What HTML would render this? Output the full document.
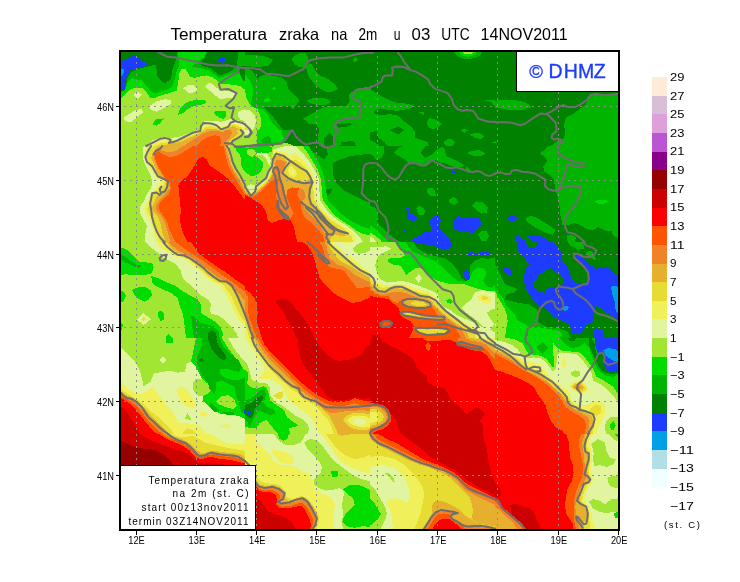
<!DOCTYPE html>
<html lang="hr"><head><meta charset="utf-8"><title>Temperatura zraka na 2m</title>
<style>html,body{margin:0;padding:0;background:#fff}body{width:740px;height:582px;overflow:hidden}svg{display:block}text{font-family:"Liberation Sans","DejaVu Sans",sans-serif;fill:#000}.ax{font-size:10px}.lg{font-size:11px}.ib{font-size:10px;text-anchor:end}.co{fill:none;stroke:#6e6e6e;stroke-width:2;stroke-linejoin:round;stroke-linecap:round}</style></head><body>
<svg width="740" height="582" viewBox="0 0 740 582">
<rect width="740" height="582" fill="#fff"/>
<defs><clipPath id="mapclip"><rect x="120" y="51" width="499" height="479"/></clipPath></defs>
<g clip-path="url(#mapclip)">
<svg x="120" y="50" width="125" height="96" viewBox="0 0 740 568" preserveAspectRatio="none" shape-rendering="crispEdges">
<rect width="740" height="568" fill="#a0e632"/>
<path fill="#00dc00" d="M0,295 20,275 50,240 85,225 130,225 155,245 175,280 200,285 240,270 290,255 335,240 345,195 350,140 362,115 385,110 400,130 415,160 445,165 480,155 515,150 545,160 575,180 600,200 665,205 715,215 740,235 740,0 0,0Z"/>
<path fill="#00b400" d="M0,250 30,238 45,190 70,165 100,175 130,180 160,215 185,250 215,255 260,240 300,225 320,190 335,130 350,90 345,40 345,0 0,0Z"/>
<path fill="#008200" d="M0,245 28,238 38,200 45,160 70,128 110,112 160,100 215,85 218,150 245,185 270,195 300,172 310,120 325,75 335,40 340,0 0,0Z"/>
<path fill="#1e3cff" d="M0,70 40,55 75,30 100,40 130,60 160,85 140,100 100,105 60,120 40,150 35,200 30,230 0,230Z"/>
<path fill="#00a0e6" d="M0,115 25,110 20,140 5,160 0,160Z"/>
<path fill="#00b400" d="M520,0 495,40 455,70 427,100 487,110 537,125 582,165 607,160 657,140 697,125 712,150 727,180 740,185 740,0Z"/>
<path fill="#008200" d="M525,0 500,45 470,75 490,95 540,110 585,150 610,145 655,125 690,100 700,30 700,0Z"/>
<path fill="#008200" d="M700,100 740,95 740,185 727,175 712,145Z"/>
<path fill="#1e3cff" d="M575,60 600,35 630,55 605,80Z"/>
<path fill="#e1f5a0" d="M80,265 105,245 130,265 105,290Z"/>
<path fill="#e1f5a0" d="M170,335 215,305 265,292 305,295 300,320 260,345 215,365 185,355Z"/>
<path fill="#e1f5a0" d="M20,400 50,380 95,355 130,350 135,370 100,400 60,430 30,420Z"/>
<path fill="#e1f5a0" d="M375,228 400,205 430,205 460,230 440,250 410,255Z"/>
<path fill="#e1f5a0" d="M505,215 525,192 545,200 570,225 600,235 650,245 690,260 680,285 640,285 590,290 560,265 530,240Z"/>
<path fill="#e1f5a0" d="M700,365 720,355 740,350 740,420 715,415 700,395Z"/>
<path fill="#00dc00" d="M340,385 355,350 380,320 420,300 470,295 510,300 505,320 470,325 430,335 400,350 370,375Z"/>
<path fill="#00dc00" d="M190,440 215,410 260,405 240,430 220,448Z"/>
<path fill="#00dc00" d="M555,365 590,360 625,362 630,385 615,410 590,400 565,385Z"/>
<path fill="#e1f5a0" d="M150,568 190,535 250,515 300,520 350,515 400,495 440,480 470,470 480,440 500,420 560,418 600,425 650,410 700,415 740,430 740,568Z"/>
<path fill="#f0f05a" d="M175,568 210,545 260,530 330,535 380,510 430,495 475,480 490,450 520,440 570,448 610,450 650,435 700,440 740,460 740,568Z"/>
<path fill="#e6dc32" d="M200,568 250,548 330,545 390,520 440,500 480,485 500,460 540,450 580,465 630,455 670,440 710,455 740,480 740,568Z"/>
<path fill="#e6af2d" d="M230,568 300,555 360,545 410,520 460,500 495,480 520,465 560,465 600,480 640,465 670,450 700,465 720,490 740,510 740,568Z"/>
<path fill="#f08228" d="M380,568 410,545 450,520 490,495 530,480 570,478 610,485 650,470 660,500 650,540 640,568Z"/>
<path fill="#ff5500" d="M450,568 480,540 520,515 560,505 590,510 600,540 590,568Z"/>
</svg>
<svg x="120" y="146" width="125" height="96" viewBox="0 0 740 568" preserveAspectRatio="none" shape-rendering="crispEdges">
<rect width="740" height="568" fill="#a0e632"/>
<path fill="#00dc00" d="M700,0 740,0 740,185 720,140 708,90 702,40Z"/>
<path fill="#e1f5a0" d="M140,0 135,40 140,90 160,130 180,170 190,210 185,250 160,280 140,330 115,360 120,400 140,440 160,470 150,520 150,568 740,568 740,200 725,170 700,125 680,90 670,50 655,10 650,0Z"/>
<path fill="#f0f05a" d="M155,0 148,40 150,80 170,120 195,160 215,190 240,205 225,240 200,265 180,290 160,340 145,370 150,400 170,430 190,470 200,520 210,568 740,568 740,225 715,176 690,136 670,96 660,56 645,16 640,0Z"/>
<path fill="#e6dc32" d="M200,0 175,30 160,60 165,85 185,115 205,150 225,185 265,205 255,240 215,270 190,295 180,340 160,370 170,400 190,430 205,470 220,520 235,568 740,568 740,240 708,180 683,140 664,100 654,60 640,18 635,0Z"/>
<path fill="#e6af2d" d="M230,0 210,20 190,45 185,75 200,105 215,145 235,180 275,205 275,245 240,275 215,300 200,340 185,365 200,395 225,420 240,460 250,510 270,568 740,568 740,255 704,185 678,143 659,103 648,62 634,18 628,0Z"/>
<path fill="#f08228" d="M370,0 340,25 300,38 260,32 230,22 210,35 200,60 205,90 220,120 240,155 260,185 290,205 295,250 265,290 235,320 215,350 215,380 240,410 265,450 280,500 290,540 300,568 740,568 740,270 698,190 672,148 652,108 640,64 626,18 620,0Z"/>
<path fill="#ff5500" d="M225,30 255,50 290,65 330,60 370,40 410,15 430,0 612,0 617,16 627,66 642,116 667,166 697,216 722,256 740,290 740,568 330,568 310,530 290,490 280,450 255,410 230,375 230,345 260,310 290,285 300,250 295,215 270,195 250,160 225,120 210,80 210,50Z"/>
<path fill="#fa0000" d="M490,65 515,80 530,115 570,140 610,170 640,195 680,240 710,280 740,320 740,568 400,568 380,530 365,490 355,440 360,380 355,330 350,280 345,230 370,200 400,180 420,150 440,120 455,90 470,70Z"/>
</svg>
<svg x="120" y="242" width="125" height="96" viewBox="0 0 740 568" preserveAspectRatio="none" shape-rendering="crispEdges">
<rect width="740" height="568" fill="#a0e632"/>
<path fill="#00dc00" d="M0,30 30,40 60,60 90,90 110,115 150,120 190,125 200,150 185,190 130,195 70,195 30,190 0,200Z"/>
<path fill="#00b400" d="M0,70 30,85 60,110 100,135 130,140 110,155 70,140 40,125 0,105Z"/>
<path fill="#00dc00" d="M185,200 230,215 280,240 330,260 370,290 420,320 460,340 480,370 480,420 520,445 560,470 590,500 610,540 605,568 390,568 385,520 380,470 370,420 355,380 340,330 300,300 250,280 210,260 190,240Z"/>
<path fill="#00b400" d="M420,430 450,450 480,480 520,490 560,500 585,530 590,568 440,568 430,520 425,470Z"/>
<path fill="#008200" d="M520,540 540,520 565,535 575,568 520,568Z"/>
<path fill="#00dc00" d="M70,285 100,270 150,265 180,285 190,315 170,340 145,355 110,335 85,310Z"/>
<path fill="#00dc00" d="M225,415 245,405 262,425 258,460 240,470 228,445Z"/>
<path fill="#00dc00" d="M0,290 25,295 35,320 20,350 0,360Z"/>
<path fill="#00dc00" d="M0,470 20,490 10,520 0,530Z"/>
<path fill="#00dc00" d="M270,560 290,545 310,568 270,568Z"/>
<path fill="#e1f5a0" d="M100,458 140,420 182,458 140,492Z"/>
<path fill="#f0f05a" d="M118,458 140,435 162,458 140,478Z"/>
<path fill="#e6dc32" d="M130,458 140,445 150,458 140,470Z"/>
<path fill="#e1f5a0" d="M150,0 180,30 220,60 260,95 290,110 330,130 360,170 370,210 400,240 430,270 470,310 520,340 540,370 530,400 540,425 580,435 620,460 660,500 690,540 700,568 740,568 740,0Z"/>
<path fill="#f0f05a" d="M215,0 240,30 280,60 330,85 380,100 420,130 460,160 500,200 540,235 590,255 615,290 640,330 665,380 690,430 710,470 740,500 740,0Z"/>
<path fill="#e6dc32" d="M250,0 280,30 320,60 365,85 410,105 450,140 490,175 530,210 570,235 610,250 630,280 660,320 680,370 700,410 720,450 740,470 740,0Z"/>
<path fill="#e6af2d" d="M275,0 300,30 335,60 380,80 420,100 460,135 500,165 540,195 580,225 625,240 655,265 685,310 710,360 730,400 740,420 740,0Z"/>
<path fill="#f08228" d="M290,0 320,30 350,55 390,75 430,95 470,125 510,155 550,185 590,215 630,235 665,260 700,300 725,330 740,350 740,0Z"/>
<path fill="#ff5500" d="M330,0 370,30 410,60 450,85 490,110 530,140 570,170 610,200 650,225 690,255 720,280 740,295 740,0Z"/>
<path fill="#fa0000" d="M420,0 740,0 740,260 700,235 660,205 620,175 580,150 540,120 500,95 460,60 440,30Z"/>
</svg>
<svg x="120" y="338" width="125" height="96" viewBox="0 0 740 568" preserveAspectRatio="none" shape-rendering="crispEdges">
<rect width="740" height="568" fill="#e1f5a0"/>
<path fill="#a0e632" d="M0,0 450,0 440,50 430,100 420,140 395,150 385,200 340,205 300,195 250,200 200,210 180,260 140,285 130,240 120,200 100,160 80,130 50,100 20,70 0,50Z"/>
<path fill="#e1f5a0" d="M235,130 255,112 275,130 255,150Z"/>
<path fill="#00dc00" d="M275,0 315,0 315,30 275,30Z"/>
<path fill="#a0e632" d="M430,270 450,240 490,245 520,270 545,300 520,330 490,345 460,340 435,310Z"/>
<path fill="#a0e632" d="M600,0 640,0 670,55 700,95 740,140 740,200 707,146 667,96 637,56 607,6Z"/>
<path fill="#00dc00" d="M450,0 600,0 607,6 637,56 667,96 707,146 740,196 740,480 700,460 650,455 600,450 560,430 520,400 490,370 490,345 520,330 545,300 520,270 490,245 470,215 450,170 420,140 430,100 440,50Z"/>
<path fill="#00b400" d="M490,0 590,0 610,50 650,90 700,130 720,170 700,210 720,240 740,235 740,380 700,375 680,320 680,290 640,270 600,250 570,260 570,300 560,330 530,300 520,260 490,230 470,190 455,140 460,100 480,60Z"/>
<path fill="#00dc00" d="M590,180 640,185 700,200 730,240 700,250 650,245 610,230 590,210Z"/>
<path fill="#008200" d="M520,0 570,0 580,40 610,80 630,120 610,135 570,100 540,60 530,30Z"/>
<path fill="#008200" d="M465,130 482,118 498,130 482,145Z"/>
<path fill="#a0e632" d="M570,375 600,345 640,338 675,360 690,400 670,420 630,410 590,395Z"/>
<path fill="#00b400" d="M530,380 560,400 590,430 560,440 535,410Z"/>
<path fill="#00b400" d="M610,440 660,435 680,450 640,458Z"/>
<path fill="#00b400" d="M700,370 740,360 740,450 720,440Z"/>
<path fill="#1e3cff" d="M732,420 740,420 740,450 732,450Z"/>
<path fill="#f0f05a" d="M335,300 365,285 395,300 420,340 450,390 440,415 400,410 370,385 350,350Z"/>
<path fill="#f0f05a" d="M0,235 20,275 50,300 100,335 140,325 175,300 195,290 215,320 240,350 270,390 310,430 330,470 350,500 400,505 440,510 480,525 500,550 510,568 0,568Z"/>
<path fill="#f0f05a" d="M470,440 500,432 520,450 505,468 480,462Z"/>
<path fill="#f0f05a" d="M590,518 630,510 660,520 640,532 605,530Z"/>
<path fill="#a0e632" d="M380,480 400,445 425,485Z"/>
<path fill="#e6dc32" d="M0,290 30,320 70,345 110,370 150,400 190,440 230,470 270,510 300,540 320,568 0,568Z"/>
<path fill="#e6dc32" d="M370,560 400,535 430,545 450,568 370,568Z"/>
<path fill="#e6af2d" d="M0,310 30,335 70,355 110,385 150,420 185,460 220,495 260,535 290,568 0,568Z"/>
<path fill="#f08228" d="M0,325 30,345 70,365 105,395 140,430 175,470 205,505 245,545 270,568 0,568Z"/>
<path fill="#ff5500" d="M0,335 30,355 65,375 100,405 130,440 160,480 195,515 230,550 250,568 0,568Z"/>
<path fill="#fa0000" d="M0,350 30,370 60,390 90,420 120,455 150,495 180,530 210,560 220,568 0,568Z"/>
<path fill="#cd0000" d="M0,400 25,420 50,450 75,490 100,530 120,568 0,568Z"/>
</svg>
<svg x="120" y="434" width="125" height="96" viewBox="0 0 740 568" preserveAspectRatio="none" shape-rendering="crispEdges">
<rect width="740" height="568" fill="#cd0000"/>
<path fill="#960000" d="M0,40 40,55 80,75 130,85 180,90 220,100 260,120 290,150 320,190 330,568 0,568Z"/>
<path fill="#fa0000" d="M120,0 160,25 200,45 240,60 280,75 320,90 360,100 400,115 430,145 460,170 500,175 540,170 600,178 650,185 740,190 740,0Z"/>
<path fill="#ff5500" d="M230,0 260,20 300,40 340,55 380,75 410,95 430,120 450,140 480,150 510,140 540,135 580,145 620,150 660,155 700,165 740,175 740,0Z"/>
<path fill="#f08228" d="M250,0 280,20 320,35 360,50 395,70 420,90 440,115 460,132 490,135 520,125 550,120 590,130 640,135 680,140 720,155 740,165 740,0Z"/>
<path fill="#e6af2d" d="M265,0 295,15 335,30 375,45 405,65 430,85 450,108 470,125 500,122 530,112 560,110 600,118 650,122 700,128 740,150 740,0Z"/>
<path fill="#e6dc32" d="M280,0 310,12 350,25 390,40 420,60 440,80 460,100 480,115 510,110 540,100 570,100 610,108 660,112 710,118 740,135 740,0Z"/>
<path fill="#f0f05a" d="M300,0 330,10 370,20 400,15 430,10 470,30 500,50 540,60 580,70 630,80 680,90 740,100 740,0Z"/>
<path fill="#e1f5a0" d="M540,0 570,20 600,40 640,55 690,60 740,55 740,0Z"/>
</svg>
<svg x="245" y="50" width="125" height="96" viewBox="0 0 740 568" preserveAspectRatio="none" shape-rendering="crispEdges">
<rect width="740" height="568" fill="#008200"/>
<path fill="#00b400" d="M0,30 60,30 130,40 165,60 130,95 70,100 0,95Z"/>
<path fill="#00b400" d="M275,55 300,30 330,15 360,20 375,45 370,80 350,105 320,100 295,85Z"/>
<path fill="#00b400" d="M360,100 380,75 400,90 420,130 450,155 490,170 530,200 550,230 520,245 480,250 440,225 410,200 385,170 370,135Z"/>
<path fill="#00b400" d="M75,170 100,150 150,150 210,160 245,185 255,230 290,265 325,295 300,330 285,350 260,330 220,335 160,335 110,335 70,330 40,310 30,280 70,250 75,210Z"/>
<path fill="#00dc00" d="M110,295 130,283 155,293 140,310 115,308Z"/>
<path fill="#00dc00" d="M160,228 172,218 184,228 172,238Z"/>
<path fill="#00b400" d="M365,300 400,285 450,283 490,290 510,310 480,325 430,325 390,318Z"/>
<path fill="#00b400" d="M345,405 400,375 450,345 480,335 540,330 600,330 620,300 615,260 640,245 660,230 740,215 740,568 660,568 640,540 590,545 560,568 520,568 525,520 500,490 470,520 470,560 440,568 430,520 440,470 420,440 380,435Z"/>
<path fill="#008200" d="M540,440 600,430 640,438 600,455 550,460Z"/>
<path fill="#008200" d="M565,548 620,540 655,548 640,560 580,562Z"/>
<path fill="#00b400" d="M635,58 652,42 668,58 652,75Z"/>
<path fill="#00b400" d="M0,105 40,120 75,170 75,210 70,250 30,280 40,310 70,330 110,335 145,370 170,400 200,440 230,480 260,495 250,530 215,555 150,568 0,568Z"/>
<path fill="#00dc00" d="M0,145 34,190 49,230 44,280 34,320 54,340 104,350 134,380 155,420 190,460 215,495 235,520 215,550 150,560 75,568 0,568Z"/>
<path fill="#a0e632" d="M0,240 10,290 34,330 74,350 94,400 95,450 75,490 70,530 80,568 0,568Z"/>
<path fill="#a0e632" d="M160,568 200,555 250,550 290,568Z"/>
<path fill="#e1f5a0" d="M0,355 30,358 55,380 65,420 55,460 35,490 20,510 0,510Z"/>
<path fill="#e6dc32" d="M0,445 25,470 30,490 15,505 0,510Z"/>
</svg>
<svg x="245" y="146" width="125" height="96" viewBox="0 0 740 568" preserveAspectRatio="none" shape-rendering="crispEdges">
<rect width="740" height="568" fill="#00b400"/>
<path fill="#008200" d="M340,0 480,0 490,50 470,80 440,60 400,30Z"/>
<path fill="#008200" d="M520,100 560,80 620,60 700,50 740,45 740,335 700,320 640,290 580,260 540,220 520,170Z"/>
<path fill="#008200" d="M465,280 490,255 515,250 510,275 490,295 470,295Z"/>
<path fill="#00dc00" d="M380,0 400,40 430,90 460,150 470,200 480,260 490,320 530,360 570,400 620,440 680,470 740,490 740,568 0,568 0,0Z"/>
<path fill="#a0e632" d="M340,0 370,40 400,90 430,140 450,200 455,260 460,320 490,360 520,400 570,440 620,470 660,500 700,520 740,530 740,568 0,568 0,210 30,215 70,195 100,160 115,120 110,80 80,50 40,35 0,30 0,0 80,0 100,15 150,15 170,0Z"/>
<path fill="#e1f5a0" d="M60,50 110,38 160,25 200,10 240,0 300,0 340,40 380,90 410,140 440,200 440,260 445,320 470,360 500,400 550,440 600,470 640,500 680,540 700,568 0,568 0,235 35,250 60,230 95,205 125,180 140,140 145,100 130,70 100,60 70,62Z"/>
<path fill="#f0f05a" d="M150,40 190,25 230,35 270,60 300,40 350,90 390,140 420,200 420,260 425,320 450,360 480,400 530,440 580,470 620,500 650,530 660,568 0,568 0,245 35,270 65,250 100,220 130,195 150,150 160,100 150,60Z"/>
<path fill="#e6dc32" d="M165,50 195,40 230,50 265,80 300,80 340,110 375,150 400,200 405,260 410,320 435,360 465,400 510,440 560,470 600,500 630,530 640,568 0,568 0,255 35,285 70,260 105,230 135,200 155,160 165,110 160,70Z"/>
<path fill="#e6af2d" d="M180,60 210,60 250,90 230,130 215,160 250,185 300,205 350,212 385,195 395,250 385,300 395,340 420,370 450,410 490,445 540,480 580,505 600,530 560,530 520,520 500,568 0,568 0,265 35,290 75,265 110,235 140,205 160,165 170,120 170,80Z"/>
<path fill="#e6dc32" d="M265,100 300,125 330,145 345,185 310,200 270,190 235,165 245,130Z"/>
<path fill="#f0f05a" d="M270,115 295,135 310,170 290,185 260,170 255,140Z"/>
<path fill="#e1f5a0" d="M280,135 292,150 290,170 278,160Z"/>
<path fill="#f08228" d="M190,80 220,85 245,100 225,135 205,165 215,200 230,240 240,290 270,250 320,245 350,260 360,300 340,330 350,370 380,400 420,440 450,480 470,520 480,568 0,568 0,275 35,300 80,270 115,240 145,210 165,170 175,130 180,95Z"/>
<path fill="#ff5500" d="M180,190 200,200 190,240 185,290 190,340 200,380 230,410 265,430 290,400 270,360 250,310 250,260 280,245 320,250 310,290 330,330 335,380 350,420 390,450 430,490 460,530 470,568 0,568 0,285 40,305 80,280 120,245 150,215Z"/>
<path fill="#fa0000" d="M0,290 40,310 70,330 100,350 125,390 135,440 160,455 200,440 240,430 270,440 290,480 300,530 310,568 0,568Z"/>
</svg>
<svg x="245" y="242" width="125" height="96" viewBox="0 0 740 568" preserveAspectRatio="none" shape-rendering="crispEdges">
<rect width="740" height="568" fill="#fa0000"/>
<path fill="#cd0000" d="M180,350 205,338 250,340 280,365 300,395 330,430 360,470 385,510 400,540 410,568 300,568 290,530 270,490 245,455 235,420 210,390Z"/>
<path fill="#ff5500" d="M340,0 370,20 395,60 410,100 425,150 440,210 470,250 510,290 550,320 600,345 630,360 680,355 710,340 740,330 740,0Z"/>
<path fill="#f08228" d="M440,0 460,30 470,70 480,110 490,140 520,155 560,160 590,175 610,205 640,240 660,270 700,270 740,265 740,0Z"/>
<path fill="#e6af2d" d="M470,0 485,30 490,60 500,95 525,115 550,135 585,145 615,165 650,195 690,215 720,230 740,235 740,0Z"/>
<path fill="#e6dc32" d="M485,0 500,30 520,60 540,85 560,110 590,125 620,140 660,165 700,190 740,210 740,0Z"/>
<path fill="#f0f05a" d="M500,0 520,30 545,55 570,80 600,105 640,130 680,160 720,185 740,195 740,0Z"/>
<path fill="#e1f5a0" d="M520,0 550,30 590,60 630,90 660,115 700,150 740,175 740,0Z"/>
<path fill="#f0f05a" d="M580,0 610,10 640,0Z"/>
<path fill="#a0e632" d="M640,40 660,15 690,0 740,0 740,50 710,65 670,70 650,60Z"/>
<path fill="#ff5500" d="M0,280 30,300 55,330 70,370 75,420 70,470 85,520 100,568 0,568Z"/>
<path fill="#f08228" d="M0,300 15,320 20,360 15,400 25,450 45,500 60,540 70,568 0,568Z"/>
<path fill="#e6af2d" d="M0,420 10,450 30,500 45,540 55,568 0,568Z"/>
<path fill="#e6dc32" d="M0,440 20,500 40,568 0,568Z"/>
<path fill="#f0f05a" d="M0,480 15,530 25,568 0,568Z"/>
</svg>
<svg x="245" y="338" width="125" height="96" viewBox="0 0 740 568" preserveAspectRatio="none" shape-rendering="crispEdges">
<rect width="740" height="568" fill="#a0e632"/>
<path fill="#00dc00" d="M0,185 15,200 20,240 10,270 30,290 70,300 110,285 130,295 140,330 150,370 190,400 230,425 250,470 317,519 260,534 267,568 197,568 167,534 127,484 87,504 67,534 27,534 0,524Z"/>
<path fill="#00b400" d="M0,370 30,360 60,340 90,310 115,300 125,340 110,380 130,410 170,425 180,445 150,455 110,440 80,430 60,460 40,500 25,530 15,500 0,480Z"/>
<path fill="#008200" d="M0,395 25,390 50,375 70,355 95,335 110,350 95,380 75,400 55,420 50,450 40,475 20,470 0,450Z"/>
<path fill="#1e3cff" d="M15,445 25,425 38,445 25,462Z"/>
<path fill="#e1f5a0" d="M0,135 15,160 28,200 38,240 50,252 90,265 130,270 150,300 150,340 180,380 220,400 260,430 300,460 340,480 370,510 380,540 370,568 740,568 740,0 0,0Z"/>
<path fill="#f0f05a" d="M0,0 20,30 50,70 70,110 100,150 120,180 100,220 70,235 100,245 140,240 180,260 220,290 240,330 260,370 300,400 340,430 380,460 410,500 430,540 440,568 740,568 740,0Z"/>
<path fill="#e6dc32" d="M165,340 200,320 225,315 225,350 200,365Z"/>
<path fill="#e6dc32" d="M30,0 50,40 75,85 110,130 140,170 160,200 190,230 230,265 270,300 310,325 330,350 370,375 410,395 435,420 460,450 490,480 510,520 525,568 740,568 740,0Z"/>
<path fill="#e6af2d" d="M50,0 70,40 95,85 130,130 160,170 200,210 240,250 280,285 310,310 335,335 375,360 415,380 440,405 470,430 500,460 520,500 540,540 550,568 740,568 740,0Z"/>
<path fill="#e6dc32" d="M580,490 600,460 640,445 690,445 740,450 740,540 700,545 650,540 610,520Z"/>
<path fill="#f0f05a" d="M605,490 630,465 670,458 720,465 740,475 740,525 700,530 650,520 620,505Z"/>
<path fill="#e1f5a0" d="M645,490 670,475 700,478 720,495 700,515 670,518 650,505Z"/>
<path fill="#f08228" d="M65,0 85,40 110,80 145,125 185,165 225,205 265,245 300,280 330,310 370,340 410,365 445,400 470,425 510,445 560,440 600,432 650,430 700,425 740,435 740,0Z"/>
<path fill="#ff5500" d="M80,0 100,40 125,75 160,115 200,155 240,195 280,240 320,275 350,305 390,335 430,360 470,385 520,400 570,405 620,395 650,385 680,395 740,400 740,0Z"/>
<path fill="#fa0000" d="M100,0 115,40 140,70 175,105 215,145 255,185 295,225 335,265 370,295 410,325 450,350 490,370 530,380 580,378 620,370 650,355 680,365 720,375 740,370 740,0Z"/>
<path fill="#cd0000" d="M310,0 410,0 430,30 460,70 490,100 520,125 560,135 610,130 660,115 700,90 710,60 740,40 740,355 700,360 660,350 620,360 580,370 530,368 490,350 460,310 430,270 400,230 370,190 340,150 325,100 315,50Z"/>
</svg>
<svg x="245" y="434" width="125" height="96" viewBox="0 0 740 568" preserveAspectRatio="none" shape-rendering="crispEdges">
<rect width="740" height="568" fill="#f0f05a"/>
<path fill="#e1f5a0" d="M100,0 460,0 490,50 520,100 550,145 590,180 640,205 700,225 740,235 740,568 530,568 520,520 525,470 535,420 520,385 490,365 450,350 420,330 400,300 400,270 380,240 340,220 300,195 260,185 210,185 170,160 150,120 115,95 85,60 60,30 70,5Z"/>
<path fill="#f0f05a" d="M160,90 200,100 250,110 290,140 290,175 250,180 210,170 180,140 160,110Z"/>
<path fill="#a0e632" d="M170,0 200,40 240,65 290,65 330,50 350,20 355,0Z"/>
<path fill="#a0e632" d="M350,50 380,30 420,35 450,60 480,100 510,140 540,170 580,200 620,230 660,255 700,270 740,280 740,568 580,568 575,520 580,470 575,420 580,380 590,340 560,320 520,330 480,335 440,320 410,300 410,270 430,250 450,230 455,190 430,150 400,120 370,90Z"/>
<path fill="#00dc00" d="M195,0 260,0 250,25 230,40 205,30Z"/>
<path fill="#00dc00" d="M510,222 550,218 548,250 515,258Z"/>
<path fill="#00dc00" d="M580,330 610,305 660,300 700,310 740,330 740,550 700,545 650,555 600,545 575,520 590,480 620,450 650,420 640,380 610,360Z"/>
<path fill="#f0f05a" d="M450,0 480,40 510,85 540,125 580,160 630,190 690,210 740,220 740,0Z"/>
<path fill="#e6dc32" d="M480,0 500,30 530,70 560,100 600,130 650,150 700,140 740,120 740,0Z"/>
<path fill="#e6af2d" d="M540,0 570,10 610,5 620,0Z"/>
<path fill="#e6dc32" d="M65,250 100,285 150,295 200,300 240,335 250,375 280,385 330,365 360,375 395,410 420,450 440,490 435,530 420,568 65,568Z"/>
<path fill="#e6af2d" d="M65,275 90,300 130,308 170,302 210,318 240,348 235,380 260,395 300,382 340,372 370,388 400,425 420,460 432,495 425,535 410,568 65,568Z"/>
<path fill="#f08228" d="M65,290 85,315 120,325 160,318 200,332 228,355 220,388 205,402 230,415 270,410 310,398 340,388 365,405 390,440 405,470 418,500 410,540 400,568 65,568Z"/>
<path fill="#ff5500" d="M65,300 85,325 120,335 160,330 190,345 210,370 200,395 190,410 220,430 270,425 310,412 340,405 360,425 380,455 395,485 405,510 400,540 390,568 65,568Z"/>
<path fill="#fa0000" d="M65,310 85,335 120,345 150,345 180,360 190,390 185,420 210,440 260,440 310,428 335,425 355,450 370,480 385,510 390,540 385,568 65,568Z"/>
<path fill="#cd0000" d="M65,380 90,395 110,420 130,450 160,470 200,480 240,495 270,515 290,540 300,568 65,568Z"/>
</svg>
<svg x="370" y="50" width="125" height="96" viewBox="0 0 740 568" preserveAspectRatio="none" shape-rendering="crispEdges">
<rect width="740" height="568" fill="#008200"/>
<path fill="#00b400" d="M485,0 520,40 560,55 610,50 650,35 670,0Z"/>
<path fill="#00dc00" d="M510,0 540,30 580,40 620,30 640,0Z"/>
<path fill="#a0e632" d="M535,0 560,25 600,25 620,0Z"/>
<path fill="#00b400" d="M0,230 30,250 60,270 110,295 150,310 200,315 250,325 265,335 220,350 160,360 110,355 60,345 30,355 20,375 60,385 120,380 170,390 200,420 240,450 265,480 265,520 300,530 340,545 350,568 0,568Z"/>
<path fill="#008200" d="M115,475 170,450 200,475 170,500Z"/>
<path fill="#008200" d="M0,485 40,480 50,520 90,550 100,568 60,568 0,530Z"/>
<path fill="#00b400" d="M335,430 350,403 380,410 410,425 425,440 400,460 370,468 345,455Z"/>
<path fill="#00b400" d="M285,368 320,368 318,383Z"/>
<path fill="#00b400" d="M435,545 460,528 490,530 503,548 490,568 450,568Z"/>
<path fill="#00b400" d="M535,475 555,465 580,475 560,490Z"/>
<path fill="#00b400" d="M590,500 620,490 655,495 675,510 660,528 620,520Z"/>
<path fill="#00b400" d="M670,295 740,295 740,335 720,310Z"/>
<path fill="#00b400" d="M720,545 740,545 740,552 720,552Z"/>
</svg>
<svg x="370" y="146" width="125" height="96" viewBox="0 0 740 568" preserveAspectRatio="none" shape-rendering="crispEdges">
<rect width="740" height="568" fill="#008200"/>
<path fill="#00b400" d="M0,0 80,0 85,40 70,70 40,85 20,60 0,45Z"/>
<path fill="#00b400" d="M140,40 170,10 200,0 330,0 300,40 330,70 370,50 400,20 430,5 445,25 450,60 500,80 540,100 560,120 520,125 480,120 450,105 420,100 390,85 360,80 340,110 300,115 260,105 230,105 210,80 180,65Z"/>
<path fill="#00b400" d="M575,42 600,28 650,25 685,42 660,60 620,62Z"/>
<path fill="#00b400" d="M565,120 585,130 600,150 580,160 570,145Z"/>
<path fill="#00b400" d="M335,255 360,245 385,260 390,295 360,295 340,280Z"/>
<path fill="#00b400" d="M465,320 490,300 515,315 520,335 495,350 475,338Z"/>
<path fill="#00b400" d="M605,350 630,328 670,335 698,360 690,395 660,400 630,380Z"/>
<path fill="#00b400" d="M275,370 285,352 310,360 328,385 315,410 285,405Z"/>
<path fill="#00b400" d="M640,525 660,505 690,505 705,530 690,560 660,560Z"/>
<path fill="#00b400" d="M0,355 30,365 50,400 40,440 60,470 90,500 110,520 150,550 180,568 0,568Z"/>
<path fill="#00dc00" d="M0,470 30,490 60,520 90,545 110,568 0,568Z"/>
<path fill="#a0e632" d="M0,510 30,530 60,555 70,568 0,568Z"/>
<path fill="#e1f5a0" d="M0,535 20,545 35,568 0,568Z"/>
<path fill="#1e3cff" d="M470,150 490,143 512,148 505,160 485,163Z"/>
<path fill="#1e3cff" d="M215,365 228,358 232,390 255,405 278,430 265,450 240,440 220,425Z"/>
<path fill="#1e3cff" d="M200,498 208,498 208,508 200,508Z"/>
<path fill="#1e3cff" d="M245,568 260,545 300,530 320,505 360,500 370,480 350,460 360,430 385,410 410,415 420,435 410,460 415,490 430,510 460,540 480,568Z"/>
<path fill="#1e3cff" d="M500,430 520,415 560,425 640,425 662,460 640,490 610,515 580,510 540,505 500,495Z"/>
</svg>
<svg x="370" y="242" width="125" height="96" viewBox="0 0 740 568" preserveAspectRatio="none" shape-rendering="crispEdges">
<rect width="740" height="568" fill="#a0e632"/>
<path fill="#00dc00" d="M150,0 740,0 740,290 700,290 650,280 600,265 560,250 500,250 460,245 420,235 390,225 360,205 330,175 300,155 270,155 240,175 215,195 200,170 180,140 140,135 110,120 105,100 140,95 180,95 205,80 190,50 165,25Z"/>
<path fill="#00b400" d="M210,0 740,0 740,250 720,270 690,260 670,230 690,190 680,160 640,150 610,170 590,210 560,235 520,230 480,200 450,170 420,140 380,110 340,95 300,80 260,60 230,30Z"/>
<path fill="#008200" d="M260,0 740,0 740,90 700,100 660,95 620,110 590,140 590,190 570,235 540,210 520,170 490,130 450,100 400,85 350,75 300,50 270,25Z"/>
<path fill="#1e3cff" d="M255,0 485,0 485,30 460,45 420,45 380,25 330,15 290,10Z"/>
<path fill="#1e3cff" d="M560,70 590,60 640,65 680,50 700,55 710,75 660,82 600,85 570,80Z"/>
<path fill="#1e3cff" d="M555,175 570,160 585,180 595,215 580,230 560,210Z"/>
<path fill="#00dc00" d="M450,345 470,335 490,350 480,365 460,362Z"/>
<path fill="#e1f5a0" d="M268,215 288,190 308,215 288,242Z"/>
<path fill="#e1f5a0" d="M0,30 50,30 100,25 130,40 100,55 60,70 40,100 30,140 40,180 60,220 100,240 150,235 190,230 230,240 280,255 330,275 370,290 400,310 410,350 430,380 470,400 510,430 550,450 600,470 640,490 680,510 700,540 700,568 0,568Z"/>
<path fill="#e1f5a0" d="M560,370 600,340 620,300 660,285 700,290 740,300 740,568 690,568 690,520 650,480 600,440 560,410 540,390Z"/>
<path fill="#f0f05a" d="M635,320 670,305 710,320 725,345 700,365 660,355 640,340Z"/>
<path fill="#e6dc32" d="M655,325 680,318 700,330 690,345 665,342Z"/>
<path fill="#a0e632" d="M690,420 720,400 740,395 740,535 712,519 735,487 710,450Z"/>
<path fill="#f0f05a" d="M0,200 30,230 70,250 120,255 170,250 210,250 260,270 310,285 350,295 385,320 400,355 430,385 470,415 510,445 550,470 590,490 630,510 660,540 670,568 0,568Z"/>
<path fill="#e6dc32" d="M0,215 30,250 70,270 120,268 170,262 210,265 250,285 300,300 340,310 370,330 395,365 430,395 470,430 510,460 550,485 580,505 610,530 630,568 0,568Z"/>
<path fill="#e6af2d" d="M0,235 25,270 60,290 100,290 130,275 170,275 215,280 250,300 290,315 330,325 360,345 385,375 420,410 460,445 500,475 540,500 570,525 590,568 0,568Z"/>
<path fill="#f08228" d="M0,255 20,285 55,305 100,305 140,295 180,295 220,305 260,320 300,335 340,345 370,370 400,405 440,440 480,470 520,500 550,530 570,568 0,568Z"/>
<path fill="#ff5500" d="M0,280 30,305 70,320 110,320 130,350 160,360 190,340 230,330 270,340 310,355 350,370 380,400 400,440 440,465 480,490 510,520 530,550 540,568 0,568Z"/>
<path fill="#fa0000" d="M0,320 30,325 70,330 110,340 140,365 170,390 180,430 200,450 240,470 260,500 250,530 230,568 0,568Z"/>
<path fill="#cd0000" d="M10,568 15,548 55,548 62,568Z"/>
<path fill="#e6af2d" d="M195,352 225,342 270,342 320,350 352,362 355,378 330,385 280,385 232,380 200,368Z"/>
<path fill="#e6dc32" d="M240,355 280,350 320,358 340,372 310,380 270,378 245,368Z"/>
<path fill="#e6af2d" d="M185,420 200,414 240,417 280,427 330,437 390,442 436,444 436,456 400,458 340,453 290,448 240,438 200,433Z"/>
<path fill="#e6dc32" d="M200,420 240,422 280,432 300,442 260,440 220,432Z"/>
<path fill="#e6dc32" d="M280,517 340,515 420,515 460,522 440,540 380,542 320,542 290,530Z"/>
<path fill="#ff5500" d="M68,482 85,473 112,473 125,482 115,494 90,498 70,494Z"/>
</svg>
<svg x="370" y="338" width="125" height="96" viewBox="0 0 740 568" preserveAspectRatio="none" shape-rendering="crispEdges">
<rect width="740" height="568" fill="#fa0000"/>
<path fill="#cd0000" d="M0,25 10,0 60,0 75,20 100,35 140,55 180,75 220,100 260,130 275,170 300,200 340,230 335,260 370,280 410,290 440,295 460,330 480,365 520,400 550,430 575,450 600,430 630,410 660,425 680,450 650,490 670,520 670,568 180,568 165,520 150,480 120,450 110,420 80,395 40,385 0,380Z"/>
<path fill="#ff5500" d="M310,0 330,15 370,20 420,15 470,10 510,25 540,50 580,65 620,75 660,80 690,100 710,130 730,170 740,190 740,0Z"/>
<path fill="#ff5500" d="M328,45 345,25 362,45 350,80 335,65Z"/>
<path fill="#f08228" d="M520,15 560,30 600,45 640,50 670,55 700,80 720,110 740,130 740,0 520,0Z"/>
<path fill="#e6af2d" d="M560,0 600,15 650,25 690,40 720,70 740,95 740,0Z"/>
<path fill="#e6dc32" d="M600,0 650,10 700,30 740,60 740,0Z"/>
<path fill="#f0f05a" d="M650,0 700,15 740,35 740,0Z"/>
<path fill="#ff5500" d="M0,385 40,390 80,400 110,425 125,460 125,490 105,520 75,540 40,550 10,568 0,568Z"/>
<path fill="#f08228" d="M0,400 40,400 75,410 100,435 112,465 108,490 90,512 60,530 30,542 0,548Z"/>
<path fill="#e6af2d" d="M0,410 35,408 65,418 90,440 100,468 92,490 75,508 50,522 0,535Z"/>
<path fill="#e6dc32" d="M0,420 30,418 55,428 75,448 82,470 75,488 55,505 30,515 0,520Z"/>
<path fill="#f0f05a" d="M0,435 25,435 45,450 50,475 35,495 0,505Z"/>
</svg>
<svg x="370" y="434" width="125" height="96" viewBox="0 0 740 568" preserveAspectRatio="none" shape-rendering="crispEdges">
<rect width="740" height="568" fill="#e6dc32"/>
<path fill="#f0f05a" d="M0,135 50,130 100,135 150,150 200,180 250,230 290,280 315,320 320,370 310,420 300,470 280,520 260,568 0,568Z"/>
<path fill="#e1f5a0" d="M0,200 40,185 90,185 140,200 180,230 210,270 230,320 235,370 220,410 190,390 150,380 110,385 100,410 120,450 130,500 135,550 130,568 0,568Z"/>
<path fill="#a0e632" d="M85,230 110,228 140,260 150,290 135,280 110,250Z"/>
<path fill="#a0e632" d="M0,300 30,330 60,380 90,430 100,470 90,510 70,545 60,568 0,568Z"/>
<path fill="#00dc00" d="M0,380 20,400 45,440 65,475 40,510 15,535 0,540Z"/>
<path fill="#e6af2d" d="M0,30 40,60 90,85 140,110 190,135 240,160 290,180 340,195 390,215 430,232 470,255 500,285 530,315 560,345 590,375 605,420 610,460 600,500 640,530 700,540 740,545 740,0 0,0Z"/>
<path fill="#e6af2d" d="M310,568 340,520 365,470 370,420 380,400 420,395 460,410 500,430 530,450 560,480 590,500 620,520 660,535 700,540 740,550 740,568Z"/>
<path fill="#f08228" d="M0,15 40,45 90,70 140,95 190,120 240,145 290,165 340,182 390,200 430,218 470,240 510,270 540,305 570,335 610,355 650,380 700,400 740,420 740,0 0,0Z"/>
<path fill="#ff5500" d="M20,0 50,35 100,60 150,85 200,110 250,135 300,158 350,175 400,195 440,210 480,232 520,258 550,290 580,320 620,340 660,360 700,378 740,395 740,0Z"/>
<path fill="#fa0000" d="M50,0 100,30 150,50 200,80 250,110 300,140 340,160 380,175 420,190 460,210 500,230 530,255 560,285 590,305 630,325 670,345 710,365 740,375 740,0Z"/>
<path fill="#cd0000" d="M190,0 240,40 280,70 320,100 350,130 400,160 440,180 480,200 510,220 540,245 570,270 610,295 650,320 700,345 740,360 740,0Z"/>
<path fill="#fa0000" d="M670,0 740,0 740,290 720,240 700,150 690,80 675,30Z"/>
<path fill="#f08228" d="M325,568 350,525 375,485 395,465 430,458 470,462 500,470 480,485 480,500 510,518 545,540 580,552 640,552 700,556 740,565 740,568Z"/>
<path fill="#ff5500" d="M340,568 360,530 385,495 405,475 440,470 475,478 470,495 490,512 520,528 550,548 570,568Z"/>
<path fill="#fa0000" d="M365,568 385,535 410,510 440,500 470,505 500,525 530,548 545,568Z"/>
</svg>
<svg x="495" y="50" width="125" height="96" viewBox="0 0 740 568" preserveAspectRatio="none" shape-rendering="crispEdges">
<rect width="740" height="568" fill="#008200"/>
<path fill="#00b400" d="M0,300 60,295 150,300 200,320 215,340 160,355 90,355 30,345 0,345Z"/>
<path fill="#00b400" d="M560,260 740,260 740,568 330,568 360,545 400,530 415,500 410,440 420,400 460,380 500,350 540,320 555,290Z"/>
<path fill="#00b400" d="M0,540 20,545 0,552Z"/>
</svg>
<svg x="495" y="146" width="125" height="96" viewBox="0 0 740 568" preserveAspectRatio="none" shape-rendering="crispEdges">
<rect width="740" height="568" fill="#008200"/>
<path fill="#00b400" d="M320,0 740,0 740,550 700,530 690,505 650,500 610,480 580,500 540,490 500,465 470,455 430,470 400,470 385,400 380,330 365,280 355,250 350,200 320,170 290,150 285,120 310,90 290,60 265,45Z"/>
<path fill="#00b400" d="M425,530 450,525 480,540 470,568 430,568Z"/>
<path fill="#00b400" d="M180,430 210,412 250,425 290,450 330,475 360,500 340,525 300,515 260,495 220,470 190,450Z"/>
<path fill="#00dc00" d="M590,328 620,318 660,320 675,328 650,340 610,342Z"/>
<path fill="#1e3cff" d="M78,428 95,408 118,410 130,428 120,443 90,443Z"/>
<path fill="#1e3cff" d="M115,530 130,525 150,540 170,555 185,568 130,568Z"/>
<path fill="#1e3cff" d="M195,535 220,525 260,528 290,540 315,560 320,568 230,568 210,550Z"/>
</svg>
<svg x="495" y="242" width="125" height="96" viewBox="0 0 740 568" preserveAspectRatio="none" shape-rendering="crispEdges">
<rect width="740" height="568" fill="#008200"/>
<path fill="#00b400" d="M430,0 520,0 530,40 490,45 450,25Z"/>
<path fill="#00b400" d="M540,60 570,50 590,80 600,110 570,95 550,80Z"/>
<path fill="#00b400" d="M0,130 20,170 40,210 60,250 100,265 135,280 110,300 70,310 60,340 100,350 140,360 200,370 250,400 260,440 250,470 300,500 380,510 430,530 450,568 0,568Z"/>
<path fill="#00dc00" d="M0,280 20,300 50,330 60,370 90,400 120,430 130,460 170,480 200,500 190,540 180,568 0,568Z"/>
<path fill="#00dc00" d="M200,510 260,505 320,515 380,525 400,550 380,568 190,568Z"/>
<path fill="#a0e632" d="M0,290 15,320 30,350 55,390 70,430 75,470 65,520 60,568 0,568Z"/>
<path fill="#e1f5a0" d="M0,480 10,490 0,500Z"/>
<path fill="#1e3cff" d="M130,0 180,0 200,30 240,40 250,0 340,0 370,20 390,60 400,120 430,150 445,190 460,230 490,250 530,240 550,220 550,180 520,140 480,100 460,75 480,65 520,90 560,130 600,160 620,145 670,145 700,180 740,220 740,475 700,440 660,420 620,390 600,380 580,420 580,470 560,480 530,500 510,540 490,545 460,540 440,490 400,470 360,450 330,420 290,390 260,380 230,350 210,320 180,270 165,210 180,170 200,130 180,100 150,70 130,40Z"/>
<path fill="#008200" d="M220,245 260,200 300,165 330,155 360,180 390,200 410,210 400,250 370,265 320,265 295,300 260,295 235,270Z"/>
<path fill="#00a0e6" d="M685,265 710,260 740,270 740,440 715,410 710,360 695,310Z"/>
<path fill="#00a0e6" d="M400,390 420,378 438,385 430,400 410,412Z"/>
<path fill="#1e3cff" d="M50,160 70,148 105,175 90,200 60,185Z"/>
<path fill="#1e3cff" d="M580,530 600,510 640,520 650,568 585,568Z"/>
</svg>
<svg x="495" y="338" width="125" height="96" viewBox="0 0 740 568" preserveAspectRatio="none" shape-rendering="crispEdges">
<rect width="740" height="568" fill="#e1f5a0"/>
<path fill="#a0e632" d="M0,0 0,12 50,22 100,40 135,68 155,100 178,122 230,115 270,120 300,140 320,170 345,200 360,180 365,140 370,100 390,85 430,90 480,95 510,120 540,160 570,200 580,250 620,270 660,300 700,340 728,380 740,400 740,0Z"/>
<path fill="#00dc00" d="M68,0 116,7 164,31 188,79 200,95 230,100 270,105 300,120 325,150 345,180 350,140 345,90 345,30 370,60 400,75 450,80 490,80 520,100 550,140 580,180 600,230 650,255 700,290 728,330 740,340 740,0Z"/>
<path fill="#00b400" d="M245,55 280,25 315,60 280,95Z"/>
<path fill="#00b400" d="M380,0 420,40 460,60 500,50 530,30 560,60 570,100 590,150 610,190 650,220 700,230 728,215 740,210 740,0Z"/>
<path fill="#008200" d="M430,0 480,0 470,20 440,15Z"/>
<path fill="#008200" d="M570,0 590,40 600,90 630,80 650,110 640,150 670,170 720,160 740,150 740,200 700,215 650,205 620,180 600,140 580,100 560,50 555,0Z"/>
<path fill="#1e3cff" d="M590,0 740,0 740,195 700,205 660,190 640,150 650,110 630,85 610,90 595,50Z"/>
<path fill="#00a0e6" d="M640,75 670,60 710,65 740,85 740,140 700,135 670,115 650,95Z"/>
<path fill="#a0e632" d="M655,500 680,470 720,465 740,480 740,568 660,568 650,540Z"/>
<path fill="#00dc00" d="M680,510 700,490 715,520 700,550 685,540Z"/>
<path fill="#a0e632" d="M450,205 475,190 500,200 505,220 480,232 455,225Z"/>
<path fill="#f0f05a" d="M398,130 412,120 420,150 410,180 400,165Z"/>
<path fill="#f0f05a" d="M440,280 470,255 510,250 545,280 555,310 520,330 480,320 450,305Z"/>
<path fill="#f0f05a" d="M0,50 40,60 80,80 120,100 160,120 200,140 250,150 280,170 300,200 330,230 360,260 400,290 430,310 450,340 460,380 500,390 540,400 580,380 620,370 650,400 650,450 630,500 610,540 600,568 0,568Z"/>
<path fill="#e6dc32" d="M450,285 475,265 505,262 535,285 540,305 515,320 485,312 460,300Z"/>
<path fill="#e6dc32" d="M560,420 600,390 625,405 630,440 600,460 570,450Z"/>
<path fill="#e6af2d" d="M460,290 480,272 500,270 525,290 520,305 495,310 470,300Z"/>
<path fill="#f08228" d="M470,290 490,280 510,292 495,302Z"/>
<path fill="#e6dc32" d="M0,60 40,72 80,92 120,112 150,135 180,165 210,180 250,190 280,210 320,245 350,275 390,305 420,330 440,360 470,400 510,415 550,430 580,445 590,480 585,520 580,568 0,568Z"/>
<path fill="#e6af2d" d="M0,70 40,85 80,105 120,130 150,155 190,185 230,205 270,225 310,255 340,285 380,315 410,345 430,375 460,410 500,430 540,445 570,460 580,490 575,530 565,568 0,568Z"/>
<path fill="#f08228" d="M0,80 40,98 80,120 120,145 160,175 200,200 240,220 280,245 320,270 350,300 390,335 410,365 430,395 470,425 510,445 545,465 560,490 555,530 545,568 0,568Z"/>
<path fill="#ff5500" d="M0,95 40,115 80,135 120,160 160,185 200,205 240,230 280,255 320,285 350,315 380,345 400,380 420,410 460,440 500,460 530,485 540,520 530,568 0,568Z"/>
<path fill="#fa0000" d="M0,190 40,200 80,215 120,230 160,250 200,270 230,290 250,330 280,370 300,400 310,440 330,490 360,530 400,550 410,568 0,568Z"/>
</svg>
<svg x="495" y="434" width="125" height="96" viewBox="0 0 740 568" preserveAspectRatio="none" shape-rendering="crispEdges">
<rect width="740" height="568" fill="#fa0000"/>
<path fill="#cd0000" d="M90,420 120,410 160,430 200,435 230,460 245,500 260,530 275,568 120,568 110,520 100,470Z"/>
<path fill="#cd0000" d="M0,290 20,310 35,350 30,375 0,370Z"/>
<path fill="#ff5500" d="M0,380 25,390 40,425 65,450 95,475 125,500 155,525 180,555 185,568 0,568Z"/>
<path fill="#f08228" d="M0,400 20,420 45,450 75,475 105,500 135,525 160,555 165,568 0,568Z"/>
<path fill="#e6af2d" d="M0,430 20,445 50,475 80,500 110,530 130,568 0,568Z"/>
<path fill="#ff5500" d="M420,0 435,40 440,90 445,140 460,180 465,230 455,280 430,320 420,370 415,420 420,470 440,500 460,530 465,568 740,568 740,0Z"/>
<path fill="#f08228" d="M500,30 510,0 740,0 740,568 480,568 470,520 465,470 465,420 470,380 480,340 495,300 510,270 520,230 520,180 510,130 500,80Z"/>
<path fill="#e6af2d" d="M515,60 530,0 740,0 740,568 500,568 490,520 480,470 475,430 480,390 495,350 510,310 530,280 545,250 535,210 530,170 525,120Z"/>
<path fill="#e6dc32" d="M540,0 740,0 740,568 520,568 520,530 540,510 545,470 530,430 500,400 510,350 525,310 545,290 560,270 550,240 545,200 555,160 555,120 535,90 530,50Z"/>
<path fill="#f0f05a" d="M560,0 740,0 740,568 560,568 560,520 555,470 540,420 515,400 525,350 540,310 560,290 570,265 555,230 555,200 565,160 565,110 545,80 545,40Z"/>
<path fill="#e1f5a0" d="M580,0 740,0 740,568 600,568 580,520 570,470 555,420 530,400 540,350 555,310 575,290 580,260 565,225 570,190 575,150 575,100 560,70 565,30Z"/>
<path fill="#a0e632" d="M570,60 610,30 650,50 660,100 680,140 715,150 700,180 660,195 620,185 590,190 580,150 585,110Z"/>
<path fill="#a0e632" d="M665,260 700,245 740,255 740,320 690,315 670,290Z"/>
<path fill="#a0e632" d="M555,400 580,385 620,395 650,415 690,385 740,380 740,470 700,460 660,470 620,460 580,440Z"/>
<path fill="#a0e632" d="M670,0 740,0 740,50 700,30Z"/>
<path fill="#00dc00" d="M710,0 740,0 740,40Z"/>
<path fill="#00dc00" d="M705,470 740,455 740,500 710,495Z"/>
</svg>
<g transform="translate(225 130) scale(0.10811 0.10801)" shape-rendering="crispEdges">
<path fill="#e6dc32" d="M0,0 150,0 168,28 145,58 105,85 65,105 50,125 0,125Z"/>
<path fill="#e6af2d" d="M0,0 105,0 120,30 95,60 60,85 35,110 25,125 0,125Z"/>
<path fill="#f08228" d="M0,0 55,0 65,30 45,70 20,100 0,115Z"/>
<path fill="#a0e632" d="M150,0 300,0 300,138 220,150 100,155 62,128 65,105 105,85 145,58 168,28Z"/>
<path fill="#e1f5a0" d="M175,0 235,0 240,25 215,55 185,50 180,25Z"/>
<path fill="#a0e632" d="M62,135 100,158 220,152 300,138 400,133 450,160 440,230 430,290 415,340 395,390 380,420 375,455 330,475 290,505 280,555 205,555 190,515 170,475 140,435 100,385 72,335 62,270 47,210 35,160Z"/>
<path fill="#00dc00" d="M95,165 140,160 200,165 230,160 300,150 400,140 440,165 430,200 390,215 330,210 290,215 280,240 320,265 350,300 355,340 330,390 290,420 240,425 200,400 170,370 150,330 150,280 140,230 110,200Z"/>
<path fill="#a0e632" d="M200,185 240,175 280,190 285,215 250,250 215,235 200,210Z"/>
<path fill="#e1f5a0" d="M285,212 340,208 390,218 410,250 425,290 410,330 395,300 380,260 350,235 300,232Z"/>
<path fill="#e1f5a0" d="M200,520 240,500 280,515 275,550 210,550Z"/>
<path fill="#00dc00" d="M300,0 540,0 590,30 560,85 520,120 400,128 300,133Z"/>
<path fill="#00b400" d="M335,100 355,70 400,55 425,80 430,115 380,122 345,118Z"/>
<path fill="#00b400" d="M520,0 600,0 600,30 560,88 535,60Z"/>
</g>
<g stroke="#8c8c8c" stroke-width="1" stroke-dasharray="2 4" fill="none" shape-rendering="crispEdges">
<path d="M136.5 56V529"/>
<path d="M196.5 56V529"/>
<path d="M256.5 56V529"/>
<path d="M316.5 56V529"/>
<path d="M377.5 56V529"/>
<path d="M437.5 56V529"/>
<path d="M497.5 56V529"/>
<path d="M558.5 56V529"/>
<path d="M124 106.5H618"/>
<path d="M124 180.5H618"/>
<path d="M124 254.5H618"/>
<path d="M124 327.5H618"/>
<path d="M124 401.5H618"/>
<path d="M124 475.5H618"/>
</g>
<path class="co" d="M158.0 52.0 167.3 56.8 175.7 57.6 187.6 60.1 196.0 61.8 207.8 64.4 216.3 65.5 228.1 65.2 239.1 67.4"/>
<path class="co" d="M239.1 67.4 238.2 72.0 231.5 75.4 224.7 79.6 218.8 83.8 220.5 89.7 228.1 88.9 236.6 93.1 233.2 99.0 225.6 105.8 229.8 108.3 234.0 107.5 231.5 117.6 234.9 121.0"/>
<path class="co" d="M239.1 67.4 245.0 68.3"/>
<path class="co" d="M146.2 146.0 153.8 142.1 160.5 138.7 164.8 137.9 170.7 139.6 169.0 143.0 175.7 141.3 184.2 137.0 192.6 132.8 200.2 131.1 201.1 126.1 203.6 123.0 211.2 123.5 216.3 125.2 221.4 129.4 228.1 126.9 230.6 122.7 234.9 121.0 241.6 122.7 245.0 124.4"/>
<path class="co" d="M162.2 146.0 160.5 148.5 155.5 151.1 153.8 154.5"/>
<path class="co" d="M151.2 146.0 147.9 151.1 145.3 157.0 147.0 162.1 152.1 166.3 155.5 172.2 158.0 176.4 163.9 179.0 168.1 181.5 167.3 186.6 164.8 191.6 161.4 192.5 159.7 195.0 156.3 192.5 152.1 193.3 151.2 198.4 150.1 203.5 151.2 210.2 152.1 217.0 153.8 223.7 156.3 230.5 158.9 235.6 162.2 239.8 164.8 242.0"/>
<path class="co" d="M161.4 186.6 159.7 189.1 160.5 191.6"/>
<path class="co" d="M226.8 146.0 229.0 149.4 231.0 155.5 232.7 162.2 236.0 169.0 240.3 175.7 244.5 184.2 245.0 185.2"/>
<path class="co" d="M234.9 146.8 245.0 146.8"/>
<path class="co" d="M163.1 242.0 167.3 247.1 172.4 251.3 177.4 254.7 184.2 255.5 190.9 258.9 196.9 263.1 202.8 267.4 207.8 272.4 214.6 277.5 219.7 280.9 226.4 281.7 231.5 285.1 234.9 291.0 238.2 297.8 241.6 306.2 245.0 314.7"/>
<path class="co" d="M159.7 258.1 162.2 255.5 166.5 254.7 165.6 258.9 163.1 260.9 160.2 260.3 159.7 258.1"/>
<path class="co" d="M120.0 392.1 123.4 395.5 126.8 398.0 131.8 398.8 136.9 402.2 142.0 407.3 145.3 412.4 148.7 417.4 153.8 421.7 158.9 426.7 163.9 431.0 168.1 434.0"/>
<path class="co" d="M168.1 434.0 172.4 437.4 179.1 440.8 185.9 443.3 190.1 446.7 193.5 450.1 196.0 453.4 199.4 456.0 204.5 455.6 208.7 453.4 212.1 452.6 218.0 454.3 224.7 455.1 231.5 455.6 238.2 456.8 245.0 461.0"/>
<path class="co" d="M245.0 67.7 253.4 68.3 260.2 69.4 266.1 73.7 277.1 74.5 288.9 76.2 295.7 72.8 304.1 68.6 306.7 63.5 309.2 60.5 317.6 58.5 329.5 57.6 343.0 57.6 353.1 55.1 363.2 53.0 370.0 52.5"/>
<path class="co" d="M245.0 146.0 258.5 145.5 272.0 144.6 281.3 143.3 286.4 137.9 289.8 131.1 293.1 131.1 295.7 136.2 300.7 141.3 305.8 144.6 312.6 143.0 317.6 142.6 322.7 144.6 324.4 146.0"/>
<path class="co" d="M370.0 88.0 363.2 88.9 356.5 89.7 353.1 93.9 353.1 99.0 359.9 101.5 360.7 109.2 359.9 115.9 356.5 118.5 351.4 117.6 344.7 118.5 338.8 121.0 334.5 125.2 334.5 127.7 337.9 127.7 337.9 132.0 334.5 134.5 333.7 139.6 335.4 146.0"/>
<path class="co" d="M245.0 124.4 250.1 129.4 251.8 132.8 248.4 137.0 245.0 137.0"/>
<path class="co" d="M245.0 186.6 250.9 195.9 255.1 191.6 256.0 186.6 261.9 181.5 266.1 178.1 268.6 171.4 272.0 166.3 272.9 159.5 276.2 153.6 283.9 156.1 290.6 161.2 295.7 164.6 300.7 168.0 306.7 171.4 310.0 176.4 312.6 182.3 310.0 188.3 309.2 196.7 310.9 203.5 315.9 208.5 321.0 213.6 326.1 220.4 331.1 225.4 336.2 229.7 346.4 233.0"/>
<path class="co" d="M289.8 162.1 285.5 167.1 282.2 173.0 288.1 178.1 295.7 181.5 304.1 183.2 312.6 182.3"/>
<path class="co" d="M273.7 168.0 277.1 167.1 278.8 171.4 279.6 178.1 282.2 184.9 283.9 193.3 286.4 201.8 288.1 206.8 285.5 209.4 281.3 203.5 278.8 196.7 277.1 189.9 276.2 183.2 275.4 176.4 272.9 171.4 273.7 168.0"/>
<path class="co" d="M277.9 200.9 278.8 208.5 283.9 213.6 288.1 217.0 288.9 219.5 285.5 218.7 280.5 212.8 277.1 206.8 277.9 200.9"/>
<path class="co" d="M300.7 201.8 305.8 206.0 312.6 210.2 319.3 215.3 326.1 221.2 332.8 227.1 339.6 231.4 348.0 233.5"/>
<path class="co" d="M305.8 207.7 312.6 213.6 317.6 220.4 322.7 227.1 327.8 233.9 326.1 237.3 329.5 242.0"/>
<path class="co" d="M316.8 211.1 319.3 217.0 324.4 222.1 329.5 227.1 334.5 230.5 332.8 234.7 326.1 233.9"/>
<path class="co" d="M370.0 162.9 364.9 164.6 363.2 169.7 363.2 179.8 362.4 188.3 361.6 193.3 364.9 196.7 370.0 200.9"/>
<path class="co" d="M321.9 146.0 326.1 147.7 332.8 146.0"/>
<path class="co" d="M307.5 242.0 312.6 246.2 317.6 251.3 322.7 256.4 327.8 260.6 329.5 263.1 326.9 263.6 322.7 259.7 317.6 254.7"/>
<path class="co" d="M327.8 242.0 332.8 247.1 339.6 253.0 346.4 258.9 353.1 264.8 359.9 269.9 366.6 273.3 370.0 275.0"/>
<path class="co" d="M245.0 314.7 247.5 321.4 250.1 329.9 253.4 338.0"/>
<path class="co" d="M251.8 338.0 254.3 344.8 258.5 351.5 263.6 358.3 268.6 365.0 272.9 369.3 278.8 374.3 285.5 381.1 292.3 386.2 299.1 388.7 299.9 392.9 304.1 397.2 310.0 399.7 315.9 401.4 321.0 404.8 326.1 407.3 336.2 407.6 346.4 407.6 359.9 406.5 370.0 405.6"/>
<path class="co" d="M245.0 461.0 250.1 466.1 256.0 483.0 258.5 486.4 265.3 488.1 272.0 486.7 278.8 488.9 284.7 493.2 283.0 499.1 277.9 501.6 281.3 503.6 288.9 502.5 295.7 499.9 302.4 498.2 307.5 501.6 311.7 508.4 314.3 513.4 316.8 518.5 315.1 525.3 312.6 528.6"/>
<path class="co" d="M370.0 53.0 373.4 52.5"/>
<path class="co" d="M397.9 52.5 401.2 56.8 404.6 62.7 409.7 68.6"/>
<path class="co" d="M370.0 87.2 376.8 84.6 381.8 81.3 382.7 77.0 386.0 75.4 392.0 75.4 392.8 71.1 392.0 67.7 397.0 66.6 403.8 66.9 409.7 69.9 415.6 71.6 422.4 75.4 428.3 79.6 430.0 83.8 435.0 88.9 440.9 90.6 447.7 93.1 451.9 99.0 453.6 104.9 457.8 109.2 462.1 110.8 466.3 110.0 473.0 110.8 476.4 115.1 478.1 118.5 488.2 121.8 495.0 121.8"/>
<path class="co" d="M370.0 162.9 376.8 163.2 381.8 168.0 386.9 174.7 391.1 178.1 395.3 179.8 398.7 177.3 402.1 171.4 405.5 166.3 409.7 162.9 415.6 163.2 420.7 165.4 425.7 165.4 429.1 162.9 431.7 159.9 435.0 162.1 440.9 164.6 446.0 167.6 452.8 168.3 455.3 167.1 461.2 168.8 468.0 171.4 473.0 172.2 476.4 171.0 480.6 171.7 484.9 174.7 489.1 176.1 495.0 173.9"/>
<path class="co" d="M370.0 200.9 374.2 201.4 376.8 204.3 378.4 210.2 385.2 217.0 387.7 223.7 388.6 230.5 386.0 238.1 392.0 239.0 395.3 240.6 397.0 242.0"/>
<path class="co" d="M370.0 275.0 373.4 278.3 375.1 282.6 374.2 286.8 378.4 291.0 385.2 291.9 390.3 288.5 395.3 286.8 402.1 286.8 407.2 289.3 413.9 292.7 420.7 296.1 429.1 296.9 435.9 300.3 440.9 306.2 446.0 311.3 452.8 316.4 459.5 321.4 464.6 325.7 471.4 329.9 478.1 334.1 480.6 338.0"/>
<path class="co" d="M474.7 329.9 478.1 332.4 484.9 333.3 488.2 338.0"/>
<path class="co" d="M402.1 301.2 407.2 299.1 415.6 299.1 424.1 300.3 430.0 302.8 430.8 306.2 425.7 307.9 417.3 307.9 408.9 307.1 402.9 304.5 402.1 301.2"/>
<path class="co" d="M400.4 313.0 403.8 311.6 410.5 312.1 417.3 313.8 425.7 315.5 435.9 316.4 444.3 316.7 444.3 319.4 437.6 319.7 427.4 318.9 419.0 318.1 410.5 316.4 403.8 315.5 400.4 313.0"/>
<path class="co" d="M414.8 329.0 419.0 327.4 427.4 328.2 434.2 327.4 440.9 328.2 447.7 329.0 449.4 331.6 444.3 334.1 435.9 334.6 427.4 335.0 420.7 333.3 416.5 331.2 414.8 329.0"/>
<path class="co" d="M437.6 324.8 444.3 324.0 451.1 325.7 457.8 328.2 464.6 329.9 473.0 332.4 478.1 334.1"/>
<path class="co" d="M380.1 323.1 383.5 321.1 389.4 321.1 392.3 323.1 390.3 326.2 385.2 327.0 381.0 326.2 380.1 323.1"/>
<path class="co" d="M396.2 242.0 400.4 248.8 405.5 252.1 410.5 253.0 415.6 258.9 420.7 265.7 427.4 274.1 435.9 282.6 442.6 289.3 451.1 291.9 453.6 296.1 454.5 302.8 459.5 309.6 468.0 316.4 474.7 321.4 478.1 326.5 474.7 329.9 468.0 329.9"/>
<path class="co" d="M457.0 343.1 461.2 341.7 468.0 343.9 474.7 345.6 481.5 347.3 482.3 349.5 476.4 349.0 469.7 347.8 462.9 346.1 457.8 345.1 457.0 343.1"/>
<path class="co" d="M480.0 338.0 486.6 342.2 495.0 346.5"/>
<path class="co" d="M488.2 338.0 495.0 343.1"/>
<path class="co" d="M370.0 405.6 375.1 404.8 380.1 405.6 385.2 408.1 388.6 413.2 389.4 418.3 386.9 422.5 381.8 425.9 376.8 428.4 371.7 430.1 370.0 432.6"/>
<path class="co" d="M370.0 434.0 373.4 439.1 378.4 443.3 386.9 446.7 395.3 450.9 403.8 455.1 412.2 459.4 420.7 462.7 429.1 465.3 437.6 468.6 444.3 470.3 451.1 473.7 457.8 477.9 462.9 483.0 468.0 488.1 474.7 491.5 481.5 494.0 488.2 496.5 495.0 499.1"/>
<path class="co" d="M423.2 530.0 427.4 523.6 431.7 516.8 435.9 512.1 440.9 510.1 447.7 510.9 454.5 512.1 457.8 513.1 452.8 514.3 450.2 516.8 452.8 519.4 457.8 521.9 462.9 525.3 468.0 526.6 474.7 526.1 481.5 526.1 488.2 527.0 495.0 528.6"/>
<path class="co" d="M495.0 122.3 503.4 122.2 511.9 122.7 520.3 125.2 525.4 123.5 533.9 117.6 540.6 113.4 545.7 114.2 552.4 110.8 559.2 106.6 563.4 104.9 567.6 107.1 574.4 107.1 581.1 104.1 587.1 99.9 590.4 94.8 596.4 93.9 604.8 95.3 613.2 94.3 618.0 93.9"/>
<path class="co" d="M547.4 114.2 552.4 119.3 555.8 122.7 556.7 131.1 552.4 134.5 551.6 137.9 554.1 139.6 558.3 138.7 562.6 140.4 563.4 143.0 560.0 143.0 558.3 146.0"/>
<path class="co" d="M495.0 173.4 500.1 172.2 505.1 173.9 510.2 173.9 511.9 170.5 517.0 170.0 522.0 171.7 528.8 172.2 534.7 173.4 539.8 176.4 545.7 179.8 544.8 185.7 548.2 189.1 554.1 190.8 559.2 189.9 564.3 186.6 569.3 185.7 576.1 185.7 581.1 187.4 580.3 193.3 577.8 200.1 574.4 206.0 570.2 211.1 565.9 215.3 565.1 221.2 565.1 227.1 567.6 232.2 574.4 233.9 579.5 237.3 584.5 242.0"/>
<path class="co" d="M557.5 146.0 557.5 152.8 562.6 156.1 567.6 159.2 576.1 162.1 583.7 162.9 583.7 167.1 575.2 167.1 571.0 163.7 567.6 164.3 565.1 171.4 564.3 177.3 561.7 182.3 559.2 189.9"/>
<path class="co" d="M582.8 242.0 586.2 245.4 593.0 247.9 596.4 250.5 594.7 254.7 589.6 257.2 582.8 256.4 577.8 253.8 573.5 253.8 574.4 258.1 579.5 262.3 584.5 267.4 587.9 272.4 588.8 279.2 587.1 284.3 582.8 284.3 577.8 286.8 572.7 289.0 567.6 287.6 562.6 287.3 559.2 286.3 555.8 289.3 556.7 293.5 560.0 296.9 562.6 301.2 563.4 306.2 561.7 309.6 558.3 309.6 555.0 306.2 554.1 302.0 550.7 300.8 545.7 302.8 540.6 307.9 538.1 313.0 537.2 318.1 537.2 323.1 532.2 325.7 527.9 328.2 526.2 333.3 525.7 338.0"/>
<path class="co" d="M572.7 289.3 576.1 293.5 581.1 296.9 586.2 300.3 591.3 306.2 594.7 311.3 598.0 313.8 604.8 315.5 611.6 318.1 618.0 321.4"/>
<path class="co" d="M495.0 343.9 500.1 346.5 506.8 349.8 513.6 354.1 520.3 354.9 524.6 356.6 525.4 363.4 527.1 368.4 531.3 370.1 535.5 371.8 540.6 374.3 545.7 377.7 552.4 381.9 557.5 387.0 562.6 392.1 566.8 397.2 567.6 402.2 571.0 405.6 576.1 407.3 579.5 409.8 586.2 411.5 593.0 414.1 594.7 419.1 593.0 425.9 589.6 431.0 587.9 434.0"/>
<path class="co" d="M524.6 356.6 528.8 354.9 532.2 352.4 530.5 346.5 526.2 342.2 525.1 338.0"/>
<path class="co" d="M529.6 368.4 533.9 366.7 539.8 367.6 540.6 371.0 535.5 371.8"/>
<path class="co" d="M579.5 409.8 580.3 402.2 581.1 393.8 576.9 388.7 577.8 384.5 582.8 380.3 587.9 371.8 593.0 365.0 596.4 358.3 598.0 354.1 602.3 352.4 604.8 356.6 604.0 361.7 608.2 365.0 613.2 363.4 618.0 361.7"/>
<path class="co" d="M495.0 346.8 502.6 350.8 509.2 355.1 515.6 360.5 520.3 365.0 526.2 369.3"/>
<path class="co" d="M495.0 499.1 498.4 500.8 500.9 506.7 505.1 510.9 510.2 515.1 515.3 519.4 520.3 523.6 524.6 528.6"/>
<path class="co" d="M588.8 434.0 586.2 439.1 584.5 445.8 585.4 451.7 588.8 453.4 588.8 459.4 587.1 465.3 585.4 471.2 584.5 474.6 587.9 476.3 590.4 479.6 588.8 482.2 583.7 483.9 581.1 491.5 578.6 496.5 576.9 500.8 581.1 504.1 586.2 506.7 587.9 513.4 587.1 520.2 586.2 523.6 583.7 524.4 580.3 520.2 577.8 516.8 576.1 516.8 576.9 520.2 580.3 524.4 582.8 527.8"/>
<path class="co" d="M240.7 130.0 243.4 132.7 241.2 135.9 236.9 138.6 232.6 140.8 231.5 143.5 235.8 146.7 248.8 146.2 257.4 144.6 268.2 144.0 281.2 143.5 285.5 139.7 289.9 133.2 292.0 130.0"/>
<path class="co" d="M225.0 143.0 231.5 143.5"/>
<path class="co" d="M249.9 130.0 251.2 132.4 248.8 135.9 245.0 136.7"/>
</g>
<rect x="120" y="51" width="499" height="479" fill="none" stroke="#000" stroke-width="2" shape-rendering="crispEdges"/>
<g stroke="#000" stroke-width="1" shape-rendering="crispEdges">
<path d="M136.5 531V535"/>
<path d="M196.5 531V535"/>
<path d="M256.5 531V535"/>
<path d="M316.5 531V535"/>
<path d="M377.5 531V535"/>
<path d="M437.5 531V535"/>
<path d="M497.5 531V535"/>
<path d="M558.5 531V535"/>
<path d="M618.5 531V535"/>
<path d="M116 106.5H119"/>
<path d="M116 180.5H119"/>
<path d="M116 254.5H119"/>
<path d="M116 327.5H119"/>
<path d="M116 401.5H119"/>
<path d="M116 475.5H119"/>
</g>
<text class="ax" x="128.3" y="544" textLength="16.5" lengthAdjust="spacingAndGlyphs">12E</text>
<text class="ax" x="188.6" y="544" textLength="16.5" lengthAdjust="spacingAndGlyphs">13E</text>
<text class="ax" x="249.0" y="544" textLength="16.5" lengthAdjust="spacingAndGlyphs">14E</text>
<text class="ax" x="309.3" y="544" textLength="16.5" lengthAdjust="spacingAndGlyphs">15E</text>
<text class="ax" x="369.6" y="544" textLength="16.5" lengthAdjust="spacingAndGlyphs">16E</text>
<text class="ax" x="429.9" y="544" textLength="16.5" lengthAdjust="spacingAndGlyphs">17E</text>
<text class="ax" x="490.3" y="544" textLength="16.5" lengthAdjust="spacingAndGlyphs">18E</text>
<text class="ax" x="550.6" y="544" textLength="16.5" lengthAdjust="spacingAndGlyphs">19E</text>
<text class="ax" x="610.9" y="544" textLength="16.5" lengthAdjust="spacingAndGlyphs">20E</text>
<text class="ax" x="97" y="111.0" textLength="17" lengthAdjust="spacingAndGlyphs">46N</text>
<text class="ax" x="97" y="184.8" textLength="17" lengthAdjust="spacingAndGlyphs">45N</text>
<text class="ax" x="97" y="258.6" textLength="17" lengthAdjust="spacingAndGlyphs">44N</text>
<text class="ax" x="97" y="332.4" textLength="17" lengthAdjust="spacingAndGlyphs">43N</text>
<text class="ax" x="97" y="406.2" textLength="17" lengthAdjust="spacingAndGlyphs">42N</text>
<text class="ax" x="97" y="480.0" textLength="17" lengthAdjust="spacingAndGlyphs">41N</text>
<text y="40.3" font-size="16.5"><tspan x="170.4" textLength="96.6" lengthAdjust="spacingAndGlyphs">Temperatura</tspan> <tspan x="279" textLength="40.0" lengthAdjust="spacingAndGlyphs">zraka</tspan> <tspan x="331" textLength="16.3" lengthAdjust="spacingAndGlyphs">na</tspan> <tspan x="358.6" textLength="18.8" lengthAdjust="spacingAndGlyphs">2m</tspan> <tspan x="393.8" textLength="6.8" lengthAdjust="spacingAndGlyphs">u</tspan> <tspan x="411.6" textLength="18.7" lengthAdjust="spacingAndGlyphs">03</tspan> <tspan x="441.3" textLength="28.3" lengthAdjust="spacingAndGlyphs">UTC</tspan> <tspan x="480.6" textLength="87.1" lengthAdjust="spacingAndGlyphs">14NOV2011</tspan></text>
<rect x="516.5" y="51.5" width="102" height="40" fill="#fff" stroke="#000" stroke-width="1" shape-rendering="crispEdges"/>
<text y="78.4" font-size="19.5" style="fill:#1e3cff;stroke:#1e3cff;stroke-width:0.35"><tspan x="529.3" font-size="18.5">©</tspan><tspan x="548.4 563.7 578 593.8">DHMZ</tspan></text>
<rect x="120.5" y="465.5" width="135" height="64" fill="#fff" stroke="#000" stroke-width="1" shape-rendering="crispEdges"/>
<text class="ib" x="248.5" y="483.7" textLength="100" lengthAdjust="spacing" xml:space="preserve">Temperatura zraka</text>
<text class="ib" x="248.5" y="497.4" textLength="76" lengthAdjust="spacing" xml:space="preserve">na 2m (st. C)</text>
<text class="ib" x="248.5" y="511.1" textLength="107" lengthAdjust="spacing" xml:space="preserve">start 00z13nov2011</text>
<text class="ib" x="248.5" y="524.8" textLength="120" lengthAdjust="spacing" xml:space="preserve">termin 03Z14NOV2011</text>
<g shape-rendering="crispEdges">
<rect x="652" y="77" width="15" height="19" fill="#ffebd7"/>
<rect x="652" y="96" width="15" height="18" fill="#d8bfd8"/>
<rect x="652" y="114" width="15" height="19" fill="#dda0dd"/>
<rect x="652" y="133" width="15" height="19" fill="#ba55d3"/>
<rect x="652" y="152" width="15" height="18" fill="#8b008b"/>
<rect x="652" y="170" width="15" height="19" fill="#960000"/>
<rect x="652" y="189" width="15" height="19" fill="#cd0000"/>
<rect x="652" y="208" width="15" height="18" fill="#fa0000"/>
<rect x="652" y="226" width="15" height="19" fill="#ff5500"/>
<rect x="652" y="245" width="15" height="19" fill="#f08228"/>
<rect x="652" y="264" width="15" height="18" fill="#e6af2d"/>
<rect x="652" y="282" width="15" height="19" fill="#e6dc32"/>
<rect x="652" y="301" width="15" height="18" fill="#f0f05a"/>
<rect x="652" y="319" width="15" height="19" fill="#e1f5a0"/>
<rect x="652" y="338" width="15" height="19" fill="#a0e632"/>
<rect x="652" y="357" width="15" height="18" fill="#00dc00"/>
<rect x="652" y="375" width="15" height="19" fill="#00b400"/>
<rect x="652" y="394" width="15" height="19" fill="#008200"/>
<rect x="652" y="413" width="15" height="18" fill="#1e3cff"/>
<rect x="652" y="431" width="15" height="19" fill="#00a0e6"/>
<rect x="652" y="450" width="15" height="19" fill="#b0e0e6"/>
<rect x="652" y="469" width="15" height="18" fill="#f0ffff"/>
</g>
<text class="lg" x="670" y="80.8" textLength="14.4" lengthAdjust="spacingAndGlyphs">29</text>
<text class="lg" x="670" y="99.5" textLength="14.4" lengthAdjust="spacingAndGlyphs">27</text>
<text class="lg" x="670" y="118.1" textLength="14.4" lengthAdjust="spacingAndGlyphs">25</text>
<text class="lg" x="670" y="136.8" textLength="14.4" lengthAdjust="spacingAndGlyphs">23</text>
<text class="lg" x="670" y="155.4" textLength="14.4" lengthAdjust="spacingAndGlyphs">21</text>
<text class="lg" x="670" y="174.1" textLength="14.4" lengthAdjust="spacingAndGlyphs">19</text>
<text class="lg" x="670" y="192.7" textLength="14.4" lengthAdjust="spacingAndGlyphs">17</text>
<text class="lg" x="670" y="211.3" textLength="14.4" lengthAdjust="spacingAndGlyphs">15</text>
<text class="lg" x="670" y="230.0" textLength="14.4" lengthAdjust="spacingAndGlyphs">13</text>
<text class="lg" x="670" y="248.7" textLength="14.4" lengthAdjust="spacingAndGlyphs">11</text>
<text class="lg" x="670" y="267.3" textLength="6.5" lengthAdjust="spacingAndGlyphs">9</text>
<text class="lg" x="670" y="285.9" textLength="6.5" lengthAdjust="spacingAndGlyphs">7</text>
<text class="lg" x="670" y="304.6" textLength="6.5" lengthAdjust="spacingAndGlyphs">5</text>
<text class="lg" x="670" y="323.2" textLength="6.5" lengthAdjust="spacingAndGlyphs">3</text>
<text class="lg" x="670" y="341.9" textLength="6.5" lengthAdjust="spacingAndGlyphs">1</text>
<text class="lg" x="670" y="360.6" textLength="14.5" lengthAdjust="spacingAndGlyphs">−1</text>
<text class="lg" x="670" y="379.2" textLength="14.5" lengthAdjust="spacingAndGlyphs">−3</text>
<text class="lg" x="670" y="397.8" textLength="14.5" lengthAdjust="spacingAndGlyphs">−5</text>
<text class="lg" x="670" y="416.5" textLength="14.5" lengthAdjust="spacingAndGlyphs">−7</text>
<text class="lg" x="670" y="435.1" textLength="14.5" lengthAdjust="spacingAndGlyphs">−9</text>
<text class="lg" x="670" y="453.8" textLength="24" lengthAdjust="spacingAndGlyphs">−11</text>
<text class="lg" x="670" y="472.4" textLength="24" lengthAdjust="spacingAndGlyphs">−13</text>
<text class="lg" x="670" y="491.1" textLength="24" lengthAdjust="spacingAndGlyphs">−15</text>
<text class="lg" x="670" y="509.8" textLength="24" lengthAdjust="spacingAndGlyphs">−17</text>
<text x="664" y="528" font-size="9.5" textLength="36" lengthAdjust="spacing" xml:space="preserve">(st. C)</text>
</svg></body></html>
